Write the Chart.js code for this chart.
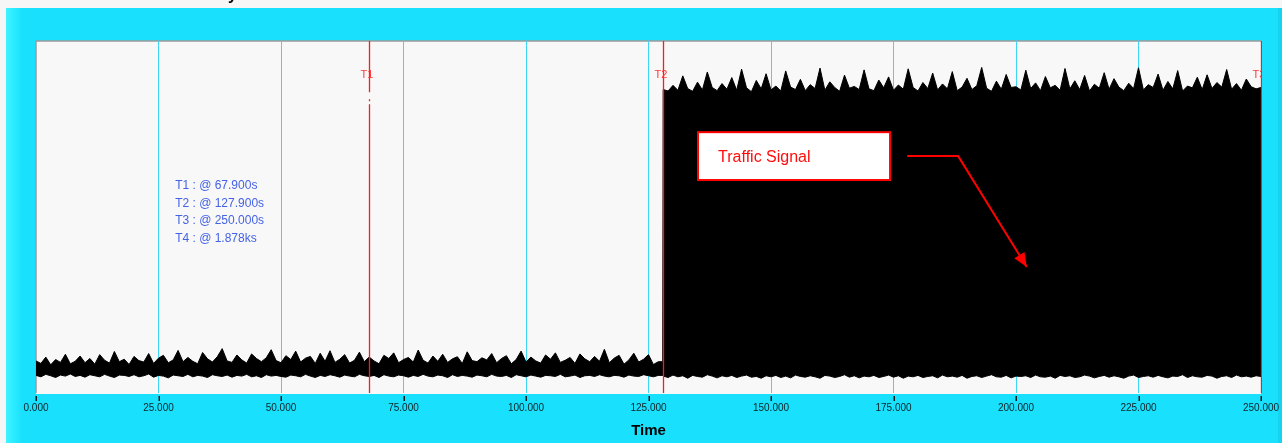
<!DOCTYPE html>
<html>
<head>
<meta charset="utf-8">
<script src="https://cdn.jsdelivr.net/npm/chart.js@4/dist/chart.umd.min.js"></script>
<style>
  html, body { margin: 0; padding: 0; background: #f4f4f4; }
  #wrap { width: 1282px; height: 443px; }
</style>
</head>
<body>
<div id="wrap"><canvas id="c" width="1282" height="443"></canvas></div>
<script>
// ---------------- DATA ----------------
// sample period: 1 s; "before" samples at t = 0..127 s, "after" samples at t = 128..250 s
const sampleStart = 0;
const afterStart = 128;

const upperBefore = [
  9.1, 8.4, 10.2, 8.0, 9.5, 8.7, 11.0, 8.3, 9.0, 10.5,
  8.6, 9.8, 8.2, 10.9, 9.3, 8.5, 11.8, 8.9, 9.6, 8.1,
  10.4, 9.2, 8.8, 11.2, 8.4, 9.9, 10.7, 8.6, 9.4, 12.1,
  8.9, 10.1, 9.0, 8.3, 11.5, 9.7, 8.8, 10.3, 12.6, 9.1,
  8.7, 10.8, 9.4, 8.5, 11.1, 9.8, 8.9, 10.0, 12.3, 9.2,
  8.6, 10.6, 9.5, 11.9, 8.8, 9.9, 10.4, 8.4, 11.3, 9.0,
  12.0, 8.7, 9.6, 10.9, 8.5, 9.3, 11.6, 8.9, 10.2, 9.1,
  8.3, 10.7, 9.8, 11.4, 8.6, 9.5, 10.1, 8.8, 12.2, 9.3,
  8.5, 10.5, 9.0, 11.0, 8.7, 9.7, 10.3, 8.4, 11.7, 9.2,
  8.9, 10.0, 9.4, 11.2, 8.6, 9.8, 10.6, 8.3, 9.5, 11.9,
  8.8, 10.2, 9.1, 8.5, 10.8, 9.6, 11.4, 8.7, 9.3, 10.1,
  8.4, 11.1, 9.7, 8.9, 10.4, 9.0, 12.4, 8.6, 9.9, 10.7,
  8.2, 9.4, 11.3, 8.8, 9.6, 10.9, 8.1, 8.9
];
const upperAfter = [
  86.2, 85.8, 87.4, 86.0, 90.1, 86.5, 85.7, 88.3, 86.1, 91.2,
  86.8, 85.9, 87.9, 86.3, 89.6, 86.0, 92.0, 86.7, 85.6, 88.8,
  86.4, 90.7, 86.1, 87.2, 85.8, 91.5, 86.9, 86.2, 89.1, 85.9,
  87.6, 86.5, 92.3, 86.0, 88.4, 86.8, 85.7, 90.3, 86.6, 87.1,
  86.2, 91.8, 86.4, 85.9, 88.9, 86.7, 89.8, 86.0, 87.5, 86.3,
  92.1, 86.8, 85.8, 88.2, 86.5, 90.9, 86.1, 87.8, 86.4, 91.3,
  85.9, 86.9, 89.4, 86.2, 87.3, 92.5, 86.6, 85.7, 88.6, 86.3,
  90.5, 86.8, 87.0, 86.1, 91.7, 86.5, 88.1, 85.9, 89.9, 86.7,
  87.4, 86.0, 92.2, 86.4, 88.7, 86.2, 90.2, 85.8, 87.7, 86.6,
  91.0, 86.3, 89.3, 86.9, 85.9, 88.0, 86.5, 92.4, 86.1, 87.6,
  86.8, 90.6, 86.0, 88.5, 86.4, 91.6, 85.8, 87.2, 86.7, 89.7,
  86.2, 90.4, 86.5, 88.2, 86.9, 91.9, 86.3, 87.9, 86.0, 89.2,
  87.0, 86.4, 86.8
];
const lowerBefore = [
  5.0, 4.6, 5.3, 4.9, 4.4, 5.1, 4.8, 5.4, 4.7, 5.0,
  4.5, 5.2, 4.9, 4.6, 5.3, 4.8, 4.4, 5.1, 5.0, 4.7,
  5.2, 4.6, 4.9, 5.4, 4.5, 5.0, 4.8, 4.3, 5.1, 4.9,
  4.7, 5.3, 4.6, 5.0, 4.8, 4.4, 5.2, 4.9, 4.7, 5.1,
  4.5, 5.0, 4.8, 5.3, 4.6, 4.9, 4.4, 5.2, 4.8, 5.0,
  4.7, 4.5, 5.1, 4.9, 4.6, 5.3, 4.8, 4.4, 5.0, 4.7,
  5.2, 4.9, 4.5, 5.1, 4.8, 4.6, 5.3, 4.9, 4.7, 5.0,
  4.4, 5.2, 4.8, 4.6, 5.1, 4.9, 4.5, 5.0, 4.7, 5.3,
  4.8, 4.6, 5.1, 4.9, 4.4, 5.2, 4.7, 5.0, 4.8, 4.5,
  5.1, 4.9, 4.6, 5.3, 4.8, 4.7, 5.0, 4.4, 5.2, 4.9,
  4.6, 5.1, 4.8, 4.5, 5.0, 4.9, 4.7, 5.3, 4.6, 4.8,
  5.1, 4.4, 4.9, 5.0, 4.7, 5.2, 4.8, 4.6, 5.0, 4.9,
  4.5, 5.1, 4.8, 4.7, 5.2, 4.9, 4.6, 5.0
];
const lowerAfter = [
  4.8, 4.4, 5.1, 4.6, 4.9, 4.2, 5.0, 4.7, 4.5, 5.2,
  4.8, 4.3, 4.9, 4.6, 5.0, 4.4, 4.8, 5.1, 4.5, 4.7,
  4.2, 4.9, 4.6, 5.0, 4.4, 4.8, 4.3, 5.1, 4.7, 4.5,
  4.9, 4.6, 4.2, 5.0, 4.8, 4.4, 4.7, 5.2, 4.5, 4.9,
  4.3, 4.8, 4.6, 5.0, 4.4, 4.7, 5.1, 4.5, 4.9, 4.2,
  4.8, 4.6, 5.0, 4.4, 4.7, 4.9, 4.3, 5.1, 4.6, 4.8,
  4.5, 5.0, 4.2, 4.7, 4.9, 4.4, 4.8, 5.2, 4.6, 4.5,
  5.0, 4.3, 4.8, 4.7, 4.9, 4.4, 5.1, 4.6, 4.5, 4.8,
  4.2, 5.0, 4.7, 4.9, 4.4, 4.6, 5.1, 4.8, 4.3, 4.7,
  5.0, 4.5, 4.9, 4.6, 4.2, 4.8, 5.1, 4.4, 4.7, 4.9,
  4.5, 5.0, 4.6, 4.3, 4.8, 4.7, 5.2, 4.4, 4.9, 4.6,
  4.5, 5.0, 4.8, 4.2, 4.7, 4.9, 4.4, 5.1, 4.6, 4.8,
  4.5, 4.9, 4.7
];

const markerNames = ['T1', 'T2', 'T3'];
const markerTimes = [67.9, 127.9, 250.0];
const readoutLines = ['T1 : @ 67.900s', 'T2 : @ 127.900s', 'T3 : @ 250.000s', 'T4 : @ 1.878ks'];
const calloutText = 'Traffic Signal';
const axisTitle = 'Time';
const chartTitle = 'Traffic Density';
const xMin = 0, xMax = 250, xStep = 25;
const yMin = 0, yMax = 100;

// ---------------- layout / style (not data) ----------------
const W = 1282, H = 443;
const annot = {
  readout: { x: 28.4, y0: 58.8, dy: 4.95 },
  box: { x0: 135.1, x1: 174.3, y0: 74.1, y1: 60.5, textX: 139.2 },
  arrow: { x0: 177.8, x1: 188.2, y: 67.3, x2: 202.2, y2: 35.8 },
  markerLabelY: 90.3
};

function envelope(before, after) {
  const pts = before.map((v, i) => ({ x: sampleStart + i, y: v }));
  pts.push({ x: markerTimes[1], y: before[before.length - 1] });
  after.forEach((v, i) => pts.push({ x: afterStart + i, y: v }));
  return pts;
}

const frame = {
  id: 'frame',
  beforeDraw(chart) {
    const ctx = chart.ctx;
    const a = chart.chartArea;
    ctx.save();
    ctx.fillStyle = '#f6f6f6';
    ctx.fillRect(0, 0, W, H);
    ctx.fillStyle = '#19e1fd';
    ctx.fillRect(6, 8, W - 6, H - 8);
    const g = ctx.createLinearGradient(6, 0, 22, 0);
    g.addColorStop(0, '#3ef4ff');
    g.addColorStop(1, '#19e1fd');
    ctx.fillStyle = g;
    ctx.fillRect(6, 8, 16, H - 8);
    ctx.fillStyle = '#15d4f0';
    ctx.fillRect(W - 4, 8, 4, H - 8);
    // clipped title (only the descender is visible)
    ctx.fillStyle = '#000';
    ctx.font = 'bold 16px Arial, "Liberation Sans", sans-serif';
    ctx.textAlign = 'right';
    ctx.textBaseline = 'alphabetic';
    ctx.fillText(chartTitle, 237, -0.5);
    // plot background
    ctx.fillStyle = '#f8f8f8';
    ctx.fillRect(a.left, a.top, a.right - a.left, a.bottom - a.top + 1);
    ctx.strokeStyle = '#9a9a9a';
    ctx.lineWidth = 1.5;
    ctx.beginPath();
    ctx.moveTo(a.left, a.bottom);
    ctx.lineTo(a.left, a.top);
    ctx.lineTo(a.right, a.top);
    ctx.stroke();
    ctx.restore();
  },
  afterDatasetsDraw(chart) {
    const ctx = chart.ctx;
    const a = chart.chartArea;
    const xs = chart.scales.x, ys = chart.scales.y;
    ctx.save();
    // markers
    ctx.beginPath();
    ctx.rect(a.left, a.top, a.right - a.left + 1, a.bottom - a.top);
    ctx.clip();
    const ly = ys.getPixelForValue(annot.markerLabelY);
    markerTimes.forEach((t, i) => {
      const px = Math.round(xs.getPixelForValue(t)) + 0.5;
      ctx.strokeStyle = '#ff1a1a';
      ctx.lineWidth = 1.3;
      ctx.beginPath();
      if (i === 0) {
        ctx.moveTo(px, a.top); ctx.lineTo(px, ly + 17);
        ctx.moveTo(px, ly + 24); ctx.lineTo(px, ly + 26);
        ctx.moveTo(px, ly + 29); ctx.lineTo(px, a.bottom);
      } else {
        ctx.moveTo(px, a.top); ctx.lineTo(px, a.bottom);
      }
      ctx.stroke();
      ctx.fillStyle = '#ff3a3a';
      ctx.font = '11px Arial, "Liberation Sans", sans-serif';
      ctx.textAlign = 'center';
      ctx.textBaseline = 'middle';
      ctx.fillText(markerNames[i], px - 2.5, ly);
    });
    ctx.restore();

    ctx.save();
    // readout block
    ctx.fillStyle = '#4462e4';
    ctx.font = '12px Arial, "Liberation Sans", sans-serif';
    ctx.textAlign = 'left';
    ctx.textBaseline = 'middle';
    readoutLines.forEach((s, i) => {
      ctx.fillText(s, xs.getPixelForValue(annot.readout.x), ys.getPixelForValue(annot.readout.y0 - i * annot.readout.dy));
    });
    // callout box
    const b = annot.box;
    const bx0 = xs.getPixelForValue(b.x0), bx1 = xs.getPixelForValue(b.x1);
    const by0 = ys.getPixelForValue(b.y0), by1 = ys.getPixelForValue(b.y1);
    ctx.fillStyle = '#ffffff';
    ctx.fillRect(bx0, by0, bx1 - bx0, by1 - by0);
    ctx.strokeStyle = '#ff0000';
    ctx.lineWidth = 2;
    ctx.strokeRect(bx0, by0, bx1 - bx0, by1 - by0);
    ctx.fillStyle = '#ff0c0c';
    ctx.font = '16px Arial, "Liberation Sans", sans-serif';
    ctx.textBaseline = 'middle';
    ctx.fillText(calloutText, xs.getPixelForValue(b.textX), (by0 + by1) / 2 + 1);
    // arrow
    const ar = annot.arrow;
    const p0x = xs.getPixelForValue(ar.x0), p1x = xs.getPixelForValue(ar.x1), py = ys.getPixelForValue(ar.y);
    const p2x = xs.getPixelForValue(ar.x2), p2y = ys.getPixelForValue(ar.y2);
    ctx.strokeStyle = '#ff0000';
    ctx.lineWidth = 2;
    ctx.beginPath();
    ctx.moveTo(p0x, py); ctx.lineTo(p1x, py); ctx.lineTo(p2x, p2y);
    ctx.stroke();
    const ang = Math.atan2(p2y - py, p2x - p1x);
    const hl = 14, hw = 6;
    ctx.fillStyle = '#ff0000';
    ctx.beginPath();
    ctx.moveTo(p2x, p2y);
    ctx.lineTo(p2x - hl * Math.cos(ang) + hw * Math.sin(ang), p2y - hl * Math.sin(ang) - hw * Math.cos(ang));
    ctx.lineTo(p2x - hl * Math.cos(ang) - hw * Math.sin(ang), p2y - hl * Math.sin(ang) + hw * Math.cos(ang));
    ctx.closePath();
    ctx.fill();
    ctx.restore();
  },
  afterDraw(chart) {
    // axis tick marks: short dark marks just below the plot, above each label
    const ctx = chart.ctx;
    const a = chart.chartArea;
    const xs = chart.scales.x;
    ctx.save();
    ctx.fillStyle = '#0a1a1e';
    xs.ticks.forEach((tk) => {
      const px = Math.round(xs.getPixelForValue(tk.value));
      ctx.fillRect(px - 0.5, a.bottom + 3, 1.5, 5);
    });
    ctx.restore();
  }
};

new Chart(document.getElementById('c'), {
  type: 'line',
  data: {
    datasets: [
      {
        label: 'upper',
        data: envelope(upperBefore, upperAfter),
        borderColor: '#000000',
        backgroundColor: '#000000',
        borderWidth: 1,
        pointRadius: 0,
        tension: 0,
        fill: '+1'
      },
      {
        label: 'lower',
        data: envelope(lowerBefore, lowerAfter),
        borderColor: '#000000',
        backgroundColor: '#000000',
        borderWidth: 1,
        pointRadius: 0,
        tension: 0,
        fill: false
      }
    ]
  },
  options: {
    responsive: false,
    devicePixelRatio: 1,
    animation: false,
    events: [],
    layout: { padding: { left: 36, right: 21, top: 41, bottom: 0 } },
    plugins: { legend: { display: false }, tooltip: { enabled: false }, title: { display: false } },
    scales: {
      x: {
        type: 'linear',
        min: xMin,
        max: xMax,
        afterFit(scale) { scale.height = 50; },
        border: { display: false },
        grid: {
          color: (c) => (c.tick && (c.tick.value === xMin || c.tick.value === xMax)) ? 'rgba(0,0,0,0)' : '#3cd7f5',
          lineWidth: 1,
          drawOnChartArea: true,
          drawTicks: true,
          tickLength: 7,
          tickColor: 'rgba(0,0,0,0)'
        },
        ticks: {
          stepSize: xStep,
          autoSkip: false,
          maxRotation: 0,
          padding: 2,
          color: '#0e2226',
          font: { family: 'Arial, "Liberation Sans", sans-serif', size: 10 },
          callback: (v) => Number(v).toFixed(3)
        },
        title: {
          display: true,
          text: axisTitle,
          color: '#000000',
          padding: { top: 0, bottom: 3 },
          font: { family: 'Arial, "Liberation Sans", sans-serif', size: 15, weight: 'bold' }
        }
      },
      y: {
        type: 'linear',
        min: yMin,
        max: yMax,
        display: false
      }
    }
  },
  plugins: [frame]
});
</script>
</body>
</html>
